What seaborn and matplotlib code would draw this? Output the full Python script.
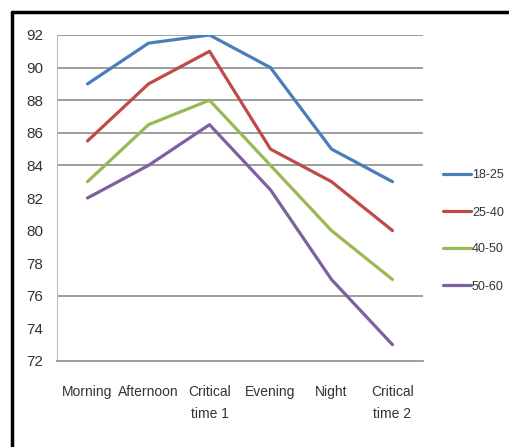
import numpy as np
import pandas as pd
import seaborn as sns
from matplotlib import pyplot as plt
from matplotlib.lines import Line2D

# data
periods = ['Morning', 'Afternoon', 'Critical\ntime 1', 'Evening', 'Night', 'Critical\ntime 2']
groups = ['18-25', '25-40', '40-50', '50-60']
vals_18_25 = [89, 91.5, 92, 90, 85, 83]
vals_25_40 = [85.5, 89, 91, 85, 83, 80]
vals_40_50 = [83, 86.5, 88, 84, 80, 77]
vals_50_60 = [82, 84, 86.5, 82.5, 77, 73]

yticks = [72, 74, 76, 78, 80, 82, 84, 86, 88, 90, 92]
grid_at = [76, 84, 86, 88, 90, 92]  # only these gridlines show in the source
colors = ['#4a7ebb', '#be4b48', '#98b954', '#7d60a0']

sns.set_style('white')
plt.rcParams['font.family'] = ['Liberation Sans', 'DejaVu Sans']

df = pd.DataFrame({
    'period': periods * 4,
    'group': np.repeat(groups, len(periods)),
    'value': vals_18_25 + vals_25_40 + vals_40_50 + vals_50_60,
})

fig = plt.figure(figsize=(5.1, 4.47), dpi=100)
ax = fig.add_axes([57 / 510, 1 - 361 / 447, (423 - 57) / 510, (361 - 35) / 447])

for y in grid_at:
    ax.axhline(y, color='#8c8c8c', lw=1.2, zorder=0)

sns.lineplot(data=df, x='period', y='value', hue='group', palette=colors,
             linewidth=2.3, sort=False, ax=ax)

ax.set_xlim(-0.5, 5.5)
ax.set_ylim(72, 92)
ax.set_yticks(yticks)
ax.set_xticks(range(len(periods)))
ax.set_xticklabels(periods, fontsize=10, color='#333333', linespacing=1.75)
ax.set_xticks(np.arange(-0.5, 6, 1), minor=True)
ax.tick_params(axis='x', which='major', length=0, pad=17)
ax.tick_params(axis='x', which='minor', length=5, color='#aaaaaa', direction='out')
ax.tick_params(axis='y', length=5, color='#aaaaaa', labelsize=11, labelcolor='#333333', pad=5)
ax.set_xlabel('')
ax.set_ylabel('')

for s in ['top', 'right']:
    ax.spines[s].set_visible(False)
ax.spines['left'].set_color('#bbbbbb')
ax.spines['bottom'].set_color('#8c8c8c')
ax.spines['bottom'].set_linewidth(1.2)

ax.legend(loc='center left', bbox_to_anchor=(432 / 510, 1 - 231 / 447),
          bbox_transform=fig.transFigure, frameon=False, fontsize=9,
          handlelength=2.2, handletextpad=0.1, labelspacing=2.0,
          labelcolor='#333333')

# black frame on the top and left edges
fig.add_artist(Line2D([12.5 / 510, 1], [1 - 12 / 447, 1 - 12 / 447], color='black', lw=2.5))
fig.add_artist(Line2D([12.5 / 510, 12.5 / 510], [0, 1 - 12 / 447], color='black', lw=2.5))

fig.savefig('out.png', dpi=100)
